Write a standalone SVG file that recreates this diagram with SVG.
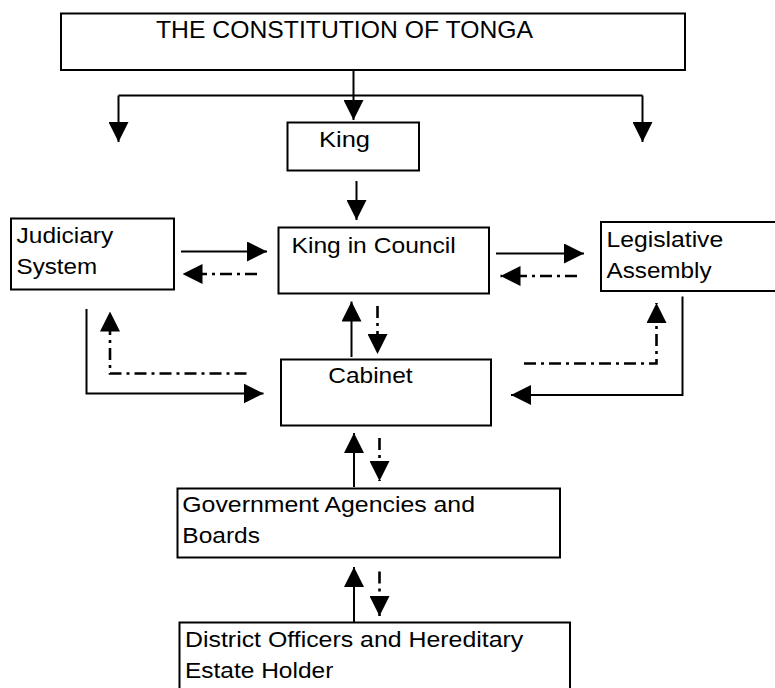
<svg xmlns="http://www.w3.org/2000/svg" width="775" height="688" viewBox="0 0 775 688">
  <style>
    .box { fill: #fff; stroke: #000; stroke-width: 2; }
    .lbl { font-family: "Liberation Sans", Arial, sans-serif; font-size: 22px; fill: #000; }
    .title { font-size: 24px; }
    .solid { fill: none; stroke: #000; stroke-width: 2; }
    .dash { fill: none; stroke: #000; stroke-width: 2.6; stroke-dasharray: 12 5 3 5; }
  </style>
  <defs>
    <marker id="head" markerUnits="userSpaceOnUse" markerWidth="20" markerHeight="20" viewBox="0 0 19 19" refX="19" refY="9.5" orient="auto">
      <path d="M0,0 L19,9.5 L0,19 Z" fill="#000"/>
    </marker>
  </defs>

  <rect width="775" height="688" fill="#fff"/>

  <g id="connectors">
    <!-- constitution fan-out -->
    <path class="solid" d="M353.5,67 V120" marker-end="url(#head)"/>
    <path class="solid" d="M118.5,95.5 H642.5"/>
    <path class="solid" d="M118.5,95.5 V142" marker-end="url(#head)"/>
    <path class="solid" d="M642.5,95.5 V142" marker-end="url(#head)"/>
    <!-- king to king in council -->
    <path class="solid" d="M356.5,181 V220" marker-end="url(#head)"/>
    <!-- judiciary and king in council -->
    <path class="solid" d="M181,251.5 H267" marker-end="url(#head)"/>
    <path class="dash" d="M257,274 H182.5" marker-end="url(#head)"/>
    <!-- king in council and legislative -->
    <path class="solid" d="M496,253.5 H584" marker-end="url(#head)"/>
    <path class="dash" d="M577,276 H500.5" marker-end="url(#head)"/>
    <!-- king in council and cabinet -->
    <path class="solid" d="M351.5,357 V301.5" marker-end="url(#head)"/>
    <path class="dash" d="M377.5,306 V354" marker-end="url(#head)"/>
    <!-- judiciary and cabinet -->
    <path class="solid" d="M86.5,309 V393.5 H263.5" marker-end="url(#head)"/>
    <path class="dash" d="M246.5,373.5 H110 V311.5" marker-end="url(#head)"/>
    <!-- legislative and cabinet -->
    <path class="solid" d="M682.5,296.5 V395 H511" marker-end="url(#head)"/>
    <path class="dash" d="M524,363.5 H656.5 V303" marker-end="url(#head)"/>
    <!-- cabinet and government agencies -->
    <path class="solid" d="M354,487 V433" marker-end="url(#head)"/>
    <path class="dash" d="M379.5,438 V481" marker-end="url(#head)"/>
    <!-- government agencies and district officers -->
    <path class="solid" d="M354,622 V567" marker-end="url(#head)"/>
    <path class="dash" d="M379.5,571.5 V616" marker-end="url(#head)"/>
  </g>

  <g id="constitution">
    <rect class="box" x="61" y="13.5" width="624" height="56.5"/>
    <text class="lbl title" x="156" y="37.5" textLength="377" lengthAdjust="spacingAndGlyphs">THE CONSTITUTION OF TONGA</text>
  </g>

  <g id="king">
    <rect class="box" x="287.5" y="122.5" width="131.5" height="48"/>
    <text class="lbl" x="319" y="147" textLength="51" lengthAdjust="spacingAndGlyphs">King</text>
  </g>

  <g id="judiciary">
    <rect class="box" x="11" y="218.5" width="163" height="71"/>
    <text class="lbl" x="16.5" y="243" textLength="96.7" lengthAdjust="spacingAndGlyphs">Judiciary</text>
    <text class="lbl" x="16.5" y="274" textLength="80.7" lengthAdjust="spacingAndGlyphs">System</text>
  </g>

  <g id="king-in-council">
    <rect class="box" x="278.5" y="227.5" width="210.5" height="66"/>
    <text class="lbl" x="291.5" y="252.5" textLength="164.3" lengthAdjust="spacingAndGlyphs">King in Council</text>
  </g>

  <g id="legislative">
    <rect class="box" x="601" y="222" width="178" height="69"/>
    <text class="lbl" x="606.5" y="246.5" textLength="116.7" lengthAdjust="spacingAndGlyphs">Legislative</text>
    <text class="lbl" x="606.5" y="277.5" textLength="105" lengthAdjust="spacingAndGlyphs">Assembly</text>
  </g>

  <g id="cabinet">
    <rect class="box" x="281" y="359.5" width="210" height="66"/>
    <text class="lbl" x="328.3" y="383" textLength="84.3" lengthAdjust="spacingAndGlyphs">Cabinet</text>
  </g>

  <g id="government-agencies">
    <rect class="box" x="177.5" y="488.5" width="382.5" height="69"/>
    <text class="lbl" x="182.3" y="511.5" textLength="292.7" lengthAdjust="spacingAndGlyphs">Government Agencies and</text>
    <text class="lbl" x="182.3" y="542.5" textLength="77.7" lengthAdjust="spacingAndGlyphs">Boards</text>
  </g>

  <g id="district-officers">
    <rect class="box" x="179.5" y="622.5" width="390.5" height="70"/>
    <text class="lbl" x="185" y="646.5" textLength="338.3" lengthAdjust="spacingAndGlyphs">District Officers and Hereditary</text>
    <text class="lbl" x="185" y="678" textLength="148.3" lengthAdjust="spacingAndGlyphs">Estate Holder</text>
  </g>
</svg>
